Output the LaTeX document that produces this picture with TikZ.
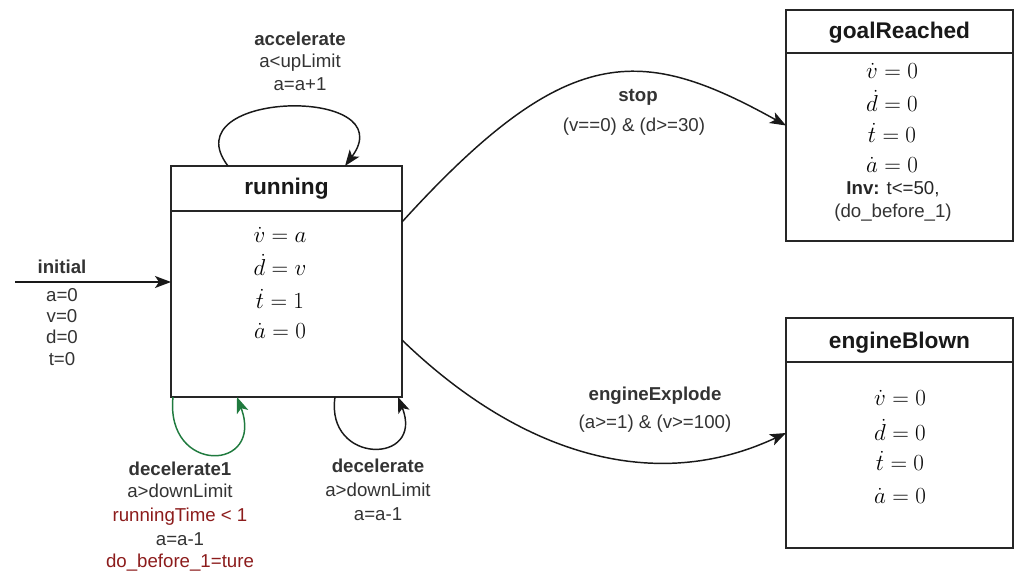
\documentclass[tikz,border=0pt]{standalone}
\usepackage[no-math]{fontspec}
\setmainfont{Liberation Sans}
\usetikzlibrary{arrows.meta,calc}
\definecolor{txtgray}{RGB}{51,51,51}
\definecolor{guardred}{RGB}{140,28,28}
\definecolor{loopgreen}{RGB}{31,122,62}
\begin{document}
\begin{tikzpicture}[x=0.75pt,y=-0.75pt,
  statebox/.style={draw=black!85,line width=1.1pt,inner sep=0pt,outer sep=0pt,fill=white},
  header/.style={draw=black!85,line width=1.1pt},
  ttl/.style={font=\fontsize{17}{20}\selectfont\bfseries,text=black!90,inner sep=0pt},
  eq/.style={font=\fontsize{16}{19}\selectfont,text=black,inner sep=0pt,text height=9pt,text depth=1pt},
  lbl/.style={font=\fontsize{14}{17}\selectfont,text=txtgray,inner sep=0pt,text height=8pt,text depth=2pt},
  blbl/.style={lbl,font=\fontsize{14}{17}\selectfont\bfseries},
  rlbl/.style={lbl,text=guardred},
  arr/.style={line width=1.1pt,draw=black!90,-{Stealth[length=12pt,width=9pt,inset=3pt]}},
  garr/.style={arr,draw=loopgreen,-{Stealth[length=12pt,width=9pt,inset=3pt,fill=loopgreen]}}]
\useasboundingbox (0,0) rectangle (1016,573);

% ---- states ----
\node[statebox,minimum width=173.25pt,minimum height=173.25pt] (run) at (286.5,281.5) {};
\draw[header] ($(run.north west)+(0,45)$) -- ($(run.north east)+(0,45)$);
\node[ttl] (runT) at (286.5,189) {running};
\node[eq] (runE1) at (280,237) {$\dot{v} = a$};
\node[eq] (runE2) at (280,270) {$\dot{d} = v$};
\node[eq] (runE3) at (280,303) {$\dot{t} = 1$};
\node[eq] (runE4) at (280,333) {$\dot{a} = 0$};

\node[statebox,minimum width=170.25pt,minimum height=173.25pt] (goal) at (899.5,125.5) {};
\draw[header] ($(goal.north west)+(0,43)$) -- ($(goal.north east)+(0,43)$);
\node[ttl] (goalT) at (899.5,33) {goalReached};
\node[eq] (goalE1) at (892,73) {$\dot{v} = 0$};
\node[eq] (goalE2) at (892,106) {$\dot{d} = 0$};
\node[eq] (goalE3) at (892,137) {$\dot{t} = 0$};
\node[eq] (goalE4) at (892,167) {$\dot{a} = 0$};
\node[lbl,text=black!85] (goalInv1) at (893,191) {{\bfseries Inv:} t<=50,};
\node[lbl] (goalInv2) at (893,214) {(do\_before\_1)};

\node[statebox,minimum width=170.25pt,minimum height=172.5pt] (blown) at (899.5,433) {};
\draw[header] ($(blown.north west)+(0,44)$) -- ($(blown.north east)+(0,44)$);
\node[ttl] (blownT) at (899.5,343) {engineBlown};
\node[eq] (blownE1) at (900,400) {$\dot{v} = 0$};
\node[eq] (blownE2) at (900,435) {$\dot{d} = 0$};
\node[eq] (blownE3) at (900,465) {$\dot{t} = 0$};
\node[eq] (blownE4) at (900,498) {$\dot{a} = 0$};

% ---- initial transition ----
\coordinate (ini) at (15,282);
\draw[arr] (ini) -- (ini -| run.west);
\node[blbl] (iniL) at (62,270) {initial};
\node[lbl] (iniA) at (62,297) {a=0};
\node[lbl] (iniV) at (62,318) {v=0};
\node[lbl] (iniD) at (62,339) {d=0};
\node[lbl] (iniT) at (62,361) {t=0};

% ---- accelerate self loop ----
\draw[arr] ($(run.north west)+(57,0)$) .. controls (170,90) and (405,85) .. ($(run.north west)+(174,0)$);
\node[blbl] (accL) at (300,42) {accelerate};
\node[lbl] (accG) at (300,64) {a<upLimit};
\node[lbl] (accU) at (300,87) {a=a+1};

% ---- decelerate1 self loop ----
\draw[garr] ($(run.south west)+(2,0)$) .. controls (165,475) and (265,472) .. ($(run.south west)+(66,0)$);
\node[blbl] (dec1L) at (180,471) {decelerate1};
\node[lbl] (dec1G) at (180,493) {a>downLimit};
\node[rlbl] (dec1R) at (180,517) {runningTime < 1};
\node[lbl] (dec1U) at (180,541) {a=a-1};
\node[rlbl] (dec1S) at (180,563) {do\_before\_1=ture};

% ---- decelerate self loop ----
\draw[arr] ($(run.south west)+(164,0)$) .. controls (325,465) and (425,465) .. ($(run.south west)+(227,0)$);
\node[blbl] (decL) at (378,468) {decelerate};
\node[lbl] (decG) at (378,492) {a>downLimit};
\node[lbl] (decU) at (378,516) {a=a-1};

% ---- stop ----
\draw[arr] ($(run.north east)+(0,56)$) .. controls (567,40.5) and (641,45) .. (goal.west);
\node[blbl] (stopL) at (638,98) {stop};
\node[lbl] (stopG) at (634,128) {(v==0) \& (d>=30)};

% ---- engineExplode ----
\draw[arr] ($(run.north east)+(0,174)$) .. controls (522,456) and (656,494) .. (blown.west);
\node[blbl] (expL) at (655,396) {engineExplode};
\node[lbl] (expG) at (655,424) {(a>=1) \& (v>=100)};
\end{tikzpicture}
\end{document}
